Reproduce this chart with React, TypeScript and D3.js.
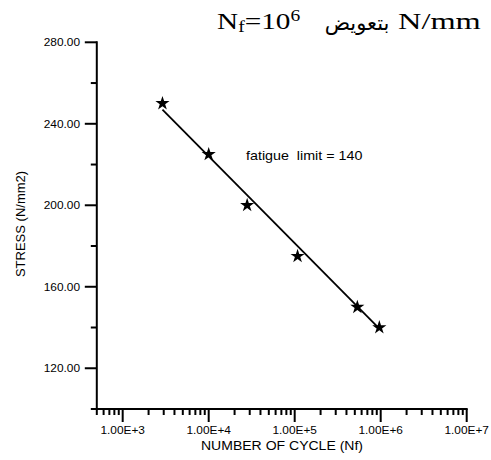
import React from "react";
import * as d3 from "d3";

// Data
const cycles = [2900, 10000, 28000, 108000, 535000, 964000];
const stress = [250, 225, 200, 175, 150, 140];
const fitCycles = [2900, 964000];
const fitStress = [247, 139.5];
const xDomain = [500, 1e7];
const yDomain = [100, 280];
const yMajorTicks = [120, 160, 200, 240, 280];
const xMajorTicks = [1e3, 1e4, 1e5, 1e6, 1e7];
const annotation = "fatigue  limit = 140";
const xTitle = "NUMBER OF CYCLE (Nf)";
const yTitle = "STRESS (N/mm2)";
const arabicWord = "بتعويض";

const W = 491;
const H = 460;

export default function App() {
  const x = d3.scaleLog().domain(xDomain).range([96.8, 466.7]);
  const y = d3.scaleLinear().domain(yDomain).range([409, 42.3]);
  const xTicks = x.ticks(20).filter((v) => v >= xDomain[0] && v <= xDomain[1]);
  const yTicks = d3.range(yDomain[0], yDomain[1] + 1, 20);
  const fmtY = d3.format(".2f");
  const fmtX = (v: number) => `1.00E+${Math.round(Math.log10(v))}`;
  const isMajorX = (v: number) => xMajorTicks.some((m) => Math.abs(m - v) / m < 1e-6);
  const star = d3.symbol().type(d3.symbolStar).size(62)();
  const line = d3
    .line<number>()
    .x((_, i) => x(fitCycles[i]))
    .y((d) => y(d))(fitStress);
  const sans = "'Liberation Sans', Arial, sans-serif";
  const serif = "'Liberation Serif', 'Times New Roman', 'DejaVu Sans', serif";
  const x0 = x(xDomain[0]);
  const y0 = y(yDomain[0]);
  const sx = 1.08;

  return (
    <svg
      width={W}
      height={H}
      style={{ position: "absolute", left: 0, top: 0, background: "#fff" }}
    >
      <rect width={W} height={H} fill="#fff" />
      {/* top text */}
      <g transform="translate(217,29) scale(1.22,1)">
        <text x={0} y={0} fontFamily={serif} fontSize={24} fill="#000">
          <tspan>N</tspan>
          <tspan fontSize={16} dy={3}>f</tspan>
          <tspan dy={-3}>=10</tspan>
          <tspan fontSize={16} dy={-8}>6</tspan>
        </text>
      </g>
      <text x={357} y={30} fontFamily={serif} fontSize={21} textAnchor="middle" fill="#000">
        {arabicWord}
      </text>
      <g transform="translate(398,29) scale(1.35,1)">
        <text x={0} y={0} fontFamily={serif} fontSize={24} fill="#000">
          N/mm
        </text>
      </g>

      {/* axes lines */}
      <g stroke="#000" strokeWidth={2} fill="none">
        <line x1={x0} x2={x0} y1={y(yDomain[1]) - 1} y2={y0} />
        <line x1={x0} x2={x(xDomain[1]) + 1} y1={y0} y2={y0} />
        {yTicks.map((v) => (
          <line
            key={"yt" + v}
            x1={x0 - (yMajorTicks.includes(v) ? 12 : 6)}
            x2={x0}
            y1={y(v)}
            y2={y(v)}
          />
        ))}
        {xTicks.map((v) => (
          <line
            key={"xt" + v}
            x1={x(v)}
            x2={x(v)}
            y1={y0}
            y2={y0 + (isMajorX(v) ? 13 : 6)}
          />
        ))}
      </g>

      {/* tick labels */}
      <g fontFamily={sans} fontSize={11} fill="#000">
        {yMajorTicks.map((v) => (
          <g key={"yl" + v} transform={`translate(80,${y(v)}) scale(${sx},1)`}>
            <text x={0} y={0} dy="0.35em" textAnchor="end">
              {fmtY(v)}
            </text>
          </g>
        ))}
        {xMajorTicks.map((v) => (
          <g key={"xl" + v} transform={`translate(${x(v)},434) scale(${sx},1)`}>
            <text x={0} y={0} textAnchor="middle">
              {fmtX(v)}
            </text>
          </g>
        ))}
      </g>

      {/* titles */}
      <g transform={`translate(282,450) scale(${sx},1)`}>
        <text x={0} y={0} fontFamily={sans} fontSize={13} textAnchor="middle" fill="#000">
          {xTitle}
        </text>
      </g>
      <text
        transform="translate(25,224) rotate(-90)"
        fontFamily={sans}
        fontSize={13}
        textAnchor="middle"
        fill="#000"
      >
        {yTitle}
      </text>

      {/* fit line */}
      <path d={line || ""} stroke="#000" strokeWidth={1.8} fill="none" />

      {/* points */}
      {cycles.map((c, i) => (
        <path key={"p" + i} d={star || ""} transform={`translate(${x(c)},${y(stress[i])})`} fill="#000" />
      ))}

      {/* annotation */}
      <g transform={`translate(246,160) scale(1.1,1)`}>
        <text x={0} y={0} fontFamily={sans} fontSize={13} fill="#000" style={{ whiteSpace: "pre" }}>
          {annotation}
        </text>
      </g>
    </svg>
  );
}
